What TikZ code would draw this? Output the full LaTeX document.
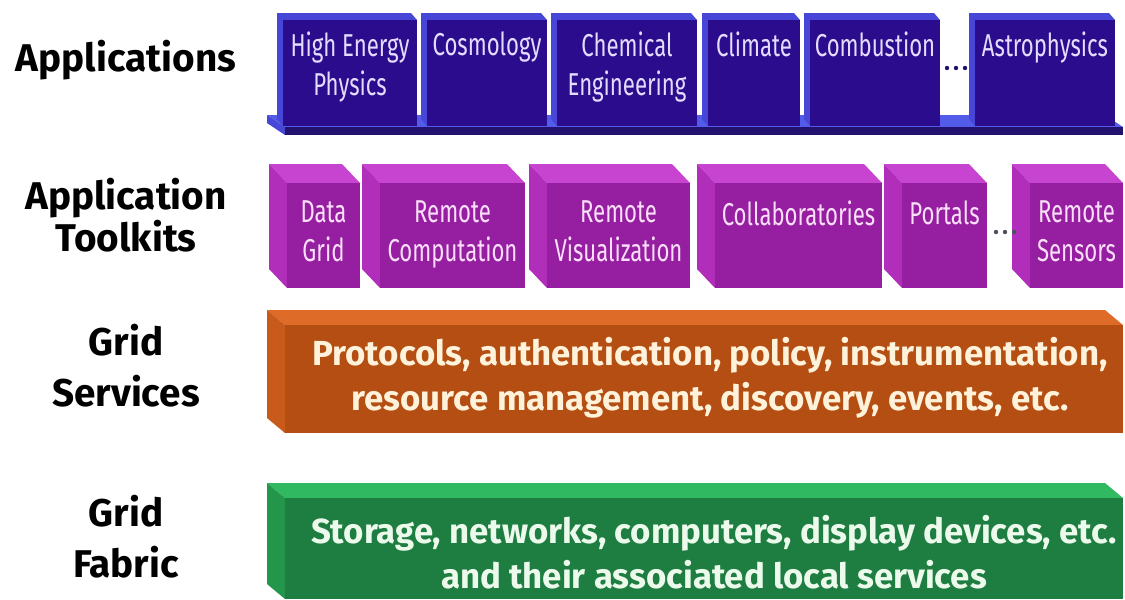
\documentclass[tikz,border=0pt]{standalone}
\usepackage{fontspec}
\setmainfont{Fira Sans}
\newfontfamily\boxfont[FakeStretch=0.7]{Fira Sans}
\usetikzlibrary{positioning}
\definecolor{apFront}{RGB}{43,12,140}
\definecolor{apSide}{RGB}{72,70,214}
\definecolor{apPlate}{RGB}{82,92,232}
\definecolor{apEdge}{RGB}{34,18,110}
\definecolor{apText}{RGB}{228,220,255}
\definecolor{tkFront}{RGB}{150,30,160}
\definecolor{tkTop}{RGB}{198,68,208}
\definecolor{tkSide}{RGB}{176,46,186}
\definecolor{tkText}{RGB}{250,222,250}
\definecolor{svFront}{RGB}{180,78,18}
\definecolor{svTop}{RGB}{222,108,40}
\definecolor{svSide}{RGB}{200,90,28}
\definecolor{svText}{RGB}{255,242,218}
\definecolor{fbFront}{RGB}{30,125,65}
\definecolor{fbTop}{RGB}{48,185,96}
\definecolor{fbSide}{RGB}{36,150,76}
\definecolor{fbText}{RGB}{236,250,236}
\definecolor{dotGray}{RGB}{80,80,90}
\tikzset{
    layer/.style={font=\bfseries\fontsize{22}{29}\selectfont, align=center, text=black},
    boxlabel/.style={font=\boxfont\fontsize{18}{22.5}\selectfont, align=center,
                     anchor=north, inner sep=0pt},
    barlabel/.style={font=\bfseries\fontsize{19.8}{25.5}\selectfont, align=center,
                     inner sep=0pt}
}
\begin{document}
\begin{tikzpicture}[x=0.2mm, y=-0.2mm]
    \fill[white] (0,0) rectangle (1125,599);

    % Layer names
    \node[layer] (apps) at (126,60) {Applications};
    \node[layer] (toolkits) at (126,215) {Application\\[-5pt]Toolkits};
    \node[layer] (services) at (126,366) {Grid\\Services};
    \node[layer] (fabric) at (126,537) {Grid\\Fabric};

    % Applications: plate and boxes
    \fill[apPlate] (267,115) -- (1105,115) -- (1123,127) -- (285,127) -- cycle;
    \fill[apSide] (267,115) -- (285,127) -- (285,135) -- (267,123) -- cycle;
    \fill[apEdge] (285,127) rectangle (1123,135);
    \foreach \nm/\xa/\xb/\txt in {hep/283/417/{High Energy\\Physics},
        cosmo/427/547/Cosmology, chem/557/697/{Chemical\\Engineering},
        climate/708/800/Climate, combust/810/940/Combustion,
        astro/975/1115/Astrophysics} {
        \fill[apSide] (\xa-6,13) -- (\xb-6,13) -- (\xb,20) -- (\xa,20)
            -- (\xa,126) -- (\xa-6,119) -- cycle;
        \fill[apFront] (\xa,20) rectangle (\xb,126);
        \node[boxlabel, text=apText] (\nm) at ({(\xa+\xb)/2},31) {\txt};
    }
    \foreach \d in {0,1,2} \fill[apEdge] ({947+9*\d},68) circle (2.2);

    % Application toolkits
    \foreach \nm/\xa/\xb/\txt in {datagrid/287/360/{Data\\Grid},
        remcomp/380/525/{Remote\\Computation}, remvis/547/690/{Remote\\Visualization},
        collab/715/882/Collaboratories, portals/902/987/Portals,
        sensors/1030/1123/{Remote\\Sensors}} {
        \fill[tkTop] (\xa-18,164) -- (\xb-18,164) -- (\xb,183) -- (\xa,183) -- cycle;
        \fill[tkSide] (\xa-18,164) -- (\xa,183) -- (\xa,288) -- (\xa-18,269) -- cycle;
        \fill[tkFront] (\xa,183) rectangle (\xb,288);
        \node[boxlabel, text=tkText] (\nm) at ({(\xa+\xb)/2},200) {\txt};
    }
    \foreach \d in {0,1,2} \fill[dotGray] ({996+9*\d},232) circle (2.2);

    % Grid services
    \fill[svTop] (267,310) -- (1105,310) -- (1123,325) -- (285,325) -- cycle;
    \fill[svSide] (267,310) -- (285,325) -- (285,433) -- (267,418) -- cycle;
    \fill[svFront] (285,325) rectangle (1123,433);
    \node[barlabel, text=svText] (servicebar) at (710,378)
        {Protocols, authentication, policy, instrumentation,\\
         resource management, discovery, events, etc.};

    % Grid fabric
    \fill[fbTop] (267,483) -- (1105,483) -- (1123,498) -- (285,498) -- cycle;
    \fill[fbSide] (267,483) -- (285,498) -- (285,599) -- (267,584) -- cycle;
    \fill[fbFront] (285,498) rectangle (1123,599);
    \node[barlabel, text=fbText] (fabricbar) at (714,552)
        {Storage, networks, computers, display devices, etc.\\
         and their associated local services};
\end{tikzpicture}
\end{document}
